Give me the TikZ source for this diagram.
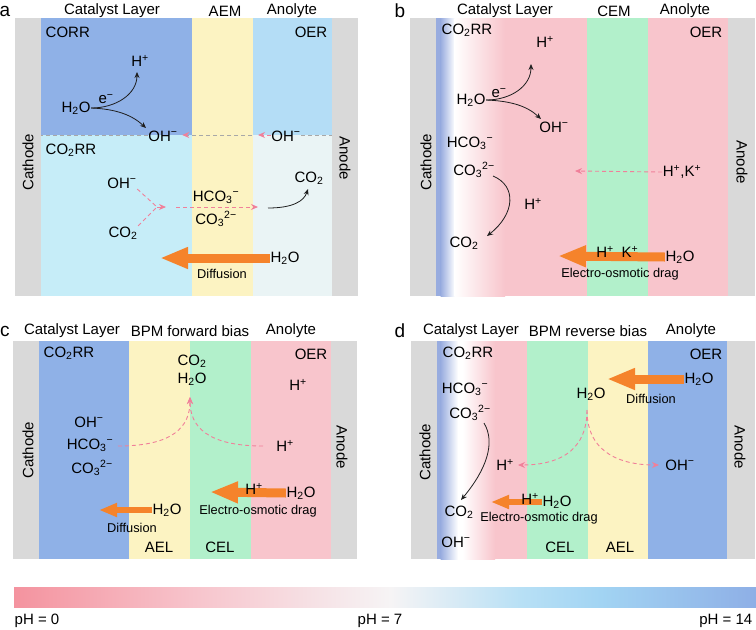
\documentclass[tikz,border=0pt]{standalone}
\usepackage{fontspec}
\setmainfont{Liberation Sans}
\usetikzlibrary{arrows.meta}
\newcommand{\cHp}{H\textsuperscript{+}}
\newcommand{\cKp}{K\textsuperscript{+}}
\newcommand{\cOHm}{OH\textsuperscript{−}}
\newcommand{\cHCO}{HCO\textsubscript{3}\textsuperscript{−}}
\newcommand{\cCOt}{CO\textsubscript{3}\textsuperscript{2−}}
\newcommand{\cCOd}{CO\textsubscript{2}}
\newcommand{\cHtO}{H\textsubscript{2}O}
\newcommand{\cCORR}{CO\textsubscript{2}RR}
\definecolor{gry}{HTML}{D9D9D9}
\definecolor{blu}{HTML}{8FB1E7}
\definecolor{cyl}{HTML}{C6EDF8}
\definecolor{ant}{HTML}{B4DDF6}
\definecolor{anb}{HTML}{EAF4F5}
\definecolor{yel}{HTML}{FCF3C2}
\definecolor{grn}{HTML}{B2F0CB}
\definecolor{pnk}{HTML}{F8C5CC}
\definecolor{bedge}{HTML}{98ACDF}
\definecolor{org}{HTML}{F5832B}
\definecolor{pkd}{HTML}{F0809A}
\definecolor{gdash}{HTML}{A8A8A8}
\definecolor{blk}{HTML}{1E1E1E}
\definecolor{barA}{HTML}{F4939F}
\definecolor{barB}{HTML}{F7C3CB}
\definecolor{barC}{HTML}{F6F4F5}
\definecolor{barD}{HTML}{B8E0F5}
\definecolor{barE}{HTML}{A2D4F3}
\definecolor{barF}{HTML}{8EAFE6}
\begin{document}
\begin{tikzpicture}[x=1pt,y=-1pt,
  t/.style={font=\fontsize{15}{16}\selectfont, inner sep=0.5pt},
  sm/.style={font=\fontsize{12.8}{14}\selectfont, inner sep=0.5pt},
  ttl/.style={font=\fontsize{15}{16}\selectfont, inner sep=0pt},
  plet/.style={font=\fontsize{19}{19}\selectfont, inner sep=0pt},
  blkarr/.style={draw=blk, line width=0.8pt, -{Stealth[length=6pt,width=5pt]}},
  pdash/.style={draw=pkd, line width=0.9pt, dash pattern=on 4pt off 3pt},
  pdarr/.style={pdash, -{Stealth[length=7pt,width=6pt]}},
  gdline/.style={draw=gdash, line width=0.8pt, dash pattern=on 4pt off 3pt},
  bigarr/.style={draw=org, line width=9pt, -{Triangle[length=28pt,width=20pt]}},
  smarr/.style={draw=org, line width=5.5pt, -{Triangle[length=18pt,width=13pt]}}]
\useasboundingbox (0,0) rectangle (756,630);
\fill[white] (0,0) rectangle (756,630);

% ================= Panel a =================
\fill[gry] (15,18) rectangle (41,296);
\fill[blu] (41,18) rectangle (192,135);
\fill[cyl] (41,135) rectangle (192,296);
\fill[yel] (192,18) rectangle (253,296);
\fill[ant] (253,18) rectangle (332,135);
\fill[anb] (253,135) rectangle (332,296);
\fill[gry] (332,18) rectangle (358,296);
\coordinate (bndL) at (41,135);
\coordinate (bndR) at (332,135);

\node[plet] (la) at (5,11) {a};
\node[ttl] (a1) at (112,11) {Catalyst Layer};
\node[ttl] (a2) at (225,11) {AEM};
\node[ttl] (a3) at (292,11) {Anolyte};
\node[t, anchor=west] (aCORR) at (45,32) {CORR};
\node[t, anchor=east] (aOER) at (328,32) {OER};
\node[t] (aHp) at (140,61) {\cHp};
\node[t] (aH2O) at (76,108) {\cHtO};
\node[t] (ae) at (106,99) {e\textsuperscript{−}};
\node[t] (aOH) at (163,136) {\cOHm};
\node[t] (aOH2) at (286,136) {\cOHm};
\coordinate (aT1) at (137,72);
\coordinate (aT2) at (146,128);
\draw[blkarr] (aH2O.east) .. controls +(25,0) and +(0,22) .. (aT1);
\draw[blkarr] (aH2O.east) .. controls +(25,1) and +(-14,-13) .. (aT2);
\coordinate (aM) at (258,135);
\coordinate (aM2) at (252,135);
\draw[gdline] (aOH.west |- aM) -- (bndL);
\draw[gdline] (aOH2.east |- aM) -- (bndR);
\draw[pdarr] (aOH2.west |- aM) -- (aM);
\draw[gdline, -{Stealth[length=7pt,width=6pt,color=pkd]}] (aM2) -- ([xshift=4pt]aOH.east |- aM);
\node[t, rotate=90] (aCat) at (28,162) {Cathode};
\node[t, rotate=-90] (aAn) at (345,158) {Anode};
\node[t, anchor=west] (aCO2RR) at (45,150) {\cCORR};
\node[t] (aOHb) at (122,183) {\cOHm};
\node[t] (aCO2b) at (123,233) {\cCOd};
\coordinate (aJ1) at (157,207);
\coordinate (aJ2) at (166,207);
\draw[pdash] (aOHb.south east) -- (aJ1);
\draw[pdash] (aCO2b.north east) -- (aJ1);
\draw[pdarr] (aJ1) -- (aJ2);
\coordinate (aJ3) at (176,207);
\coordinate (aJ4) at (258,207);
\draw[pdarr] (aJ3) -- (aJ4);
\node[t] (aHCO) at (216,197) {\cHCO};
\node[t] (aCO3) at (216,219) {\cCOt};
\node[t] (aCO2c) at (309,178) {\cCOd};
\coordinate (aJ5) at (268,208);
\coordinate (aT3) at (308,189);
\draw[blkarr] (aJ5) .. controls +(25,0) and +(-4,12) .. (aT3);
\node[t] (aH2Ob) at (285,258) {\cHtO};
\coordinate (aT4) at (160,258);
\draw[bigarr] (aH2Ob.west) -- (aT4);
\node[sm] (aDif) at (222,274) {Diffusion};

% ================= Panel b =================
\fill[gry] (410,18) rectangle (436,296);
\fill[bedge] (436,18) rectangle (441,296);
\shade[left color=bedge, right color=white] (440.5,18) rectangle (455,296);
\shade[left color=white, right color=pnk] (454.5,18) rectangle (505,296);
\fill[pnk] (504.5,18) rectangle (587,296);
\fill[grn] (587,18) rectangle (648,296);
\fill[pnk] (648,18) rectangle (728,296);
\fill[gry] (728,18) rectangle (755,296);

\node[plet] (lb) at (400,11) {b};
\node[ttl] (b1) at (505,11) {Catalyst Layer};
\node[ttl] (b2) at (614,11) {CEM};
\node[ttl] (b3) at (685,11) {Anolyte};
\node[t, anchor=west] (bCO2RR) at (441,30) {\cCORR};
\node[t, anchor=east] (bOER) at (723,32) {OER};
\node[t] (bHp) at (545,42) {\cHp};
\node[t] (bH2O) at (471,100) {\cHtO};
\node[t] (be) at (499,93) {e\textsuperscript{−}};
\node[t] (bOH) at (554,127) {\cOHm};
\coordinate (bT1) at (531,64);
\coordinate (bT2) at (541,119);
\draw[blkarr] (bH2O.east) .. controls +(25,0) and +(0,22) .. (bT1);
\draw[blkarr] (bH2O.east) .. controls +(25,1) and +(-14,-13) .. (bT2);
\node[t] (bHCO) at (470,143) {\cHCO};
\node[t] (bCO3) at (474,170) {\cCOt};
\node[t] (bCO2) at (464,243) {\cCOd};
\node[t] (bHp2) at (533,204) {\cHp};
\coordinate (bS1) at (493,176);
\coordinate (bT3) at (487,236);
\draw[blkarr] (bS1) .. controls +(24,10) and +(28,-22) .. (bT3);
\node[t] (bHK) at (682,172) {\cHp,\cKp};
\coordinate (bT4) at (575,171);
\draw[pdarr] (bHK.west) -- (bT4);
\node[t, rotate=90] (bCat) at (426,162) {Cathode};
\node[t, rotate=-90] (bAn) at (742,162) {Anode};
\node[t] (bH2Ob) at (680,257) {\cHtO};
\coordinate (bT5) at (558,256);
\draw[bigarr] (bH2Ob.west) -- (bT5);
\node[t] (bHp3) at (605,252) {\cHp};
\node[t] (bKp) at (630,252) {\cKp};
\node[sm] (bEOD) at (620,274) {Electro-osmotic drag};

% ================= Panel c =================
\fill[gry] (13,341) rectangle (39,559);
\fill[blu] (39,341) rectangle (129,559);
\fill[yel] (129,341) rectangle (190,559);
\fill[grn] (190,341) rectangle (251,559);
\fill[pnk] (251,341) rectangle (331,559);
\fill[gry] (331,341) rectangle (357,559);

\node[plet] (lc) at (5,331) {c};
\node[ttl] (c1) at (72,331) {Catalyst Layer};
\node[ttl] (c2) at (190,331) {BPM forward bias};
\node[ttl] (c3) at (291,331) {Anolyte};
\node[t, anchor=west] (cCO2RR) at (43,353) {\cCORR};
\node[t, anchor=east] (cOER) at (328,354) {OER};
\node[t] (cCO2) at (192,361) {\cCOd};
\node[t] (cH2O) at (192,379) {\cHtO};
\node[t] (cHp) at (298,385) {\cHp};
\node[t] (cOH) at (89,422) {\cOHm};
\node[t] (cHCO) at (90,445) {\cHCO};
\node[t] (cCO3) at (92,468) {\cCOt};
\node[t] (cHp2) at (285,446) {\cHp};
\coordinate (cTop) at (190,397);
\coordinate (cL) at (118,446);
\coordinate (cR) at (263,446);
\draw[pdarr] (cL) .. controls +(55,0) and +(0,30) .. (cTop);
\draw[pdarr] (cR) .. controls +(-55,0) and +(0,30) .. (cTop);
\node[t, rotate=90] (cCat) at (28,450) {Cathode};
\node[t, rotate=-90] (cAn) at (342,447) {Anode};
\node[t] (cH2Ob) at (301,493) {\cHtO};
\coordinate (cT1) at (210,492);
\draw[bigarr] (cH2Ob.west) -- (cT1);
\node[t] (cHp3) at (254,489) {\cHp};
\node[sm] (cEOD) at (258,511) {Electro-osmotic drag};
\node[t] (cH2Oc) at (167,510) {\cHtO};
\coordinate (cT2) at (99,510);
\draw[smarr] (cH2Oc.west) -- (cT2);
\node[sm] (cDif) at (132,528) {Diffusion};
\node[t] (cAEL) at (159,547) {AEL};
\node[t] (cCEL) at (220,547) {CEL};

% ================= Panel d =================
\fill[gry] (411,341) rectangle (437,559);
\fill[bedge] (437,341) rectangle (441,559);
\shade[left color=bedge, right color=white] (440.5,341) rectangle (458,559);
\fill[white] (457.5,341) rectangle (463,559);
\shade[left color=white, right color=pnk] (462.5,341) rectangle (495,559);
\fill[pnk] (494.5,341) rectangle (527,559);
\fill[grn] (527,341) rectangle (588,559);
\fill[yel] (588,341) rectangle (648,559);
\fill[blu] (648,341) rectangle (727,559);
\fill[gry] (727,341) rectangle (755,559);

\node[plet] (ld) at (400,331) {d};
\node[ttl] (d1) at (471,331) {Catalyst Layer};
\node[ttl] (d2) at (588,331) {BPM reverse bias};
\node[ttl] (d3) at (691,331) {Anolyte};
\node[t, anchor=west] (dCO2RR) at (442,353) {\cCORR};
\node[t, anchor=east] (dOER) at (723,354) {OER};
\node[t] (dHCO) at (465,389) {\cHCO};
\node[t] (dCO3) at (470,413) {\cCOt};
\node[t] (dCO2) at (459,512) {\cCOd};
\node[t] (dOH) at (456,542) {\cOHm};
\coordinate (dS1) at (484,423);
\coordinate (dT1) at (461,500);
\draw[blkarr] (dS1) .. controls +(12,20) and +(25,-30) .. (dT1);
\node[t] (dH2Oa) at (699,379) {\cHtO};
\coordinate (dT2) at (607,379);
\draw[bigarr] (dH2Oa.west) -- (dT2);
\node[sm] (dDif) at (651,399) {Diffusion};
\node[t] (dH2O) at (591,394) {\cHtO};
\node[t] (dHp) at (505,465) {\cHp};
\node[t] (dOH2) at (680,465) {\cOHm};
\coordinate (dS2) at (587,410);
\coordinate (dTL) at (518,465);
\coordinate (dTR) at (659,465);
\draw[pdarr] (dS2) .. controls +(0,45) and +(35,0) .. (dTL);
\draw[pdarr] (dS2) .. controls +(0,45) and +(-35,0) .. (dTR);
\node[t] (dH2Ob) at (557,502) {\cHtO};
\coordinate (dT3) at (491,502);
\draw[smarr] (dH2Ob.west) -- (dT3);
\node[t] (dHp2) at (530,499) {\cHp};
\node[sm] (dEOD) at (539,518) {Electro-osmotic drag};
\node[t] (dCEL) at (560,547) {CEL};
\node[t] (dAEL) at (620,547) {AEL};
\node[t, rotate=90] (dCat) at (425,452) {Cathode};
\node[t, rotate=-90] (dAn) at (740,447) {Anode};

% ================= pH bar =================
\shade[left color=barA, right color=barB] (14,587) rectangle (190.5,607);
\shade[left color=barB, right color=barC] (190,587) rectangle (390.5,607);
\shade[left color=barC, right color=barD] (390,587) rectangle (520.5,607);
\shade[left color=barD, right color=barE] (520,587) rectangle (600.5,607);
\shade[left color=barE, right color=barF] (600,587) rectangle (756,607);
\node[t, anchor=west] (ph0) at (14,621) {pH = 0};
\node[t] (ph7) at (380,621) {pH = 7};
\node[t, anchor=east] (ph14) at (753,621) {pH = 14};
\end{tikzpicture}
\end{document}
